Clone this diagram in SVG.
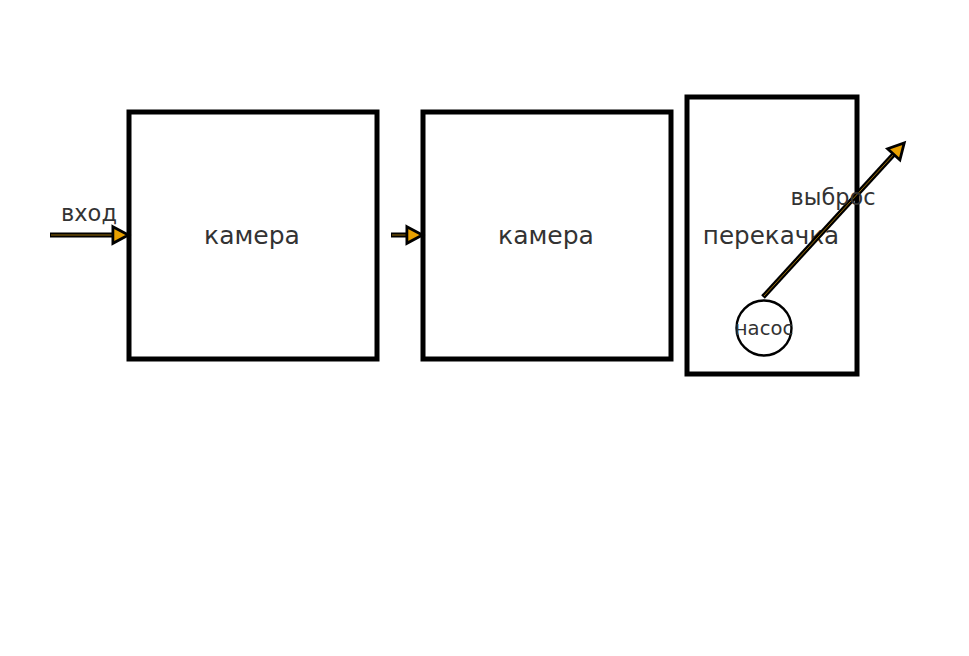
<svg xmlns="http://www.w3.org/2000/svg" width="969" height="656" viewBox="0 0 969 656">
<style>
.box{fill:#fff;stroke:#000;stroke-width:5}
.lbl{font-family:"DejaVu Sans",sans-serif;fill:#333;text-anchor:middle;dominant-baseline:central}
.outer{stroke:#000;stroke-width:5;fill:none}
.inner{stroke:#9a6e08;stroke-width:1;fill:none}
</style>
<defs>
<marker id="ah" markerUnits="userSpaceOnUse" markerWidth="20" markerHeight="20" refX="1" refY="7.5" orient="auto" viewBox="-1 -1 18 17" overflow="visible">
<path d="M0,0 L14,7.5 L0,15 z" fill="#e8a000" stroke="#000" stroke-width="2.5" stroke-linejoin="miter"/>
</marker>
</defs>
<rect width="969" height="656" fill="#fff"/>
<g id="node-chamber1">
<rect class="box" x="129" y="112" width="248" height="247"/>
<text class="lbl" x="252" y="235" font-size="25">камера</text>
</g>
<g id="node-chamber2">
<rect class="box" x="423" y="112" width="248" height="247"/>
<text class="lbl" x="546" y="235" font-size="25">камера</text>
</g>
<g id="node-pumping">
<rect class="box" x="687" y="97" width="170" height="277"/>
<text class="lbl" x="771" y="235" font-size="24.6">перекачка</text>
</g>
<g id="node-pump">
<circle cx="764" cy="328" r="27.5" fill="#fff" stroke="#000" stroke-width="2.4"/>
<text class="lbl" x="764" y="328" font-size="19.6">насос</text>
</g>
<g id="connectors">
<g id="edge-in">
<line class="outer" x1="50" y1="235" x2="114" y2="235"/>
<line class="inner" x1="51" y1="235" x2="114" y2="235" marker-end="url(#ah)"/>
<text class="lbl" x="89" y="213" font-size="22.5">вход</text>
</g>
<g id="edge-mid">
<line class="outer" x1="391" y1="235" x2="408" y2="235"/>
<line class="inner" x1="392" y1="235" x2="408" y2="235" marker-end="url(#ah)"/>
</g>
<g id="edge-out">
<line class="outer" x1="763" y1="297" x2="894.5" y2="153.5"/>
<line class="inner" x1="764" y1="296" x2="894.5" y2="153.5" marker-end="url(#ah)"/>
<text class="lbl" x="833" y="197" font-size="22.4">выброс</text>
</g>
</g>
</svg>
